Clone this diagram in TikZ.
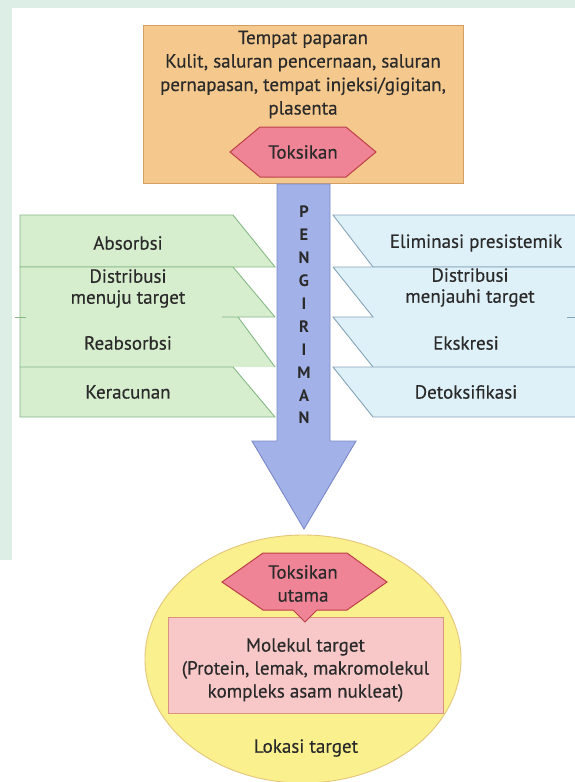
\documentclass[tikz,border=0pt]{standalone}
\usepackage{fontspec}
\setmainfont{PT Sans}[FakeBold=0.4]
\newfontfamily\letterfont{PT Sans Bold}
\usetikzlibrary{shapes.geometric}
\definecolor{bgGreen}{HTML}{DCEEE6}
\definecolor{srcFill}{HTML}{F5C98E}
\definecolor{srcDraw}{HTML}{D4A062}
\definecolor{hexFill}{HTML}{EF8496}
\definecolor{hexDraw}{HTML}{BC3F48}
\definecolor{grFill}{HTML}{D6EECE}
\definecolor{grDraw}{HTML}{86B886}
\definecolor{blFill}{HTML}{DEF0F8}
\definecolor{blDraw}{HTML}{86A6B8}
\definecolor{arFill}{HTML}{A2B2E8}
\definecolor{arDraw}{HTML}{7A88C6}
\definecolor{elFill}{HTML}{FAF08E}
\definecolor{elDraw}{HTML}{E4C67A}
\definecolor{moFill}{HTML}{F8C8C8}
\definecolor{moDraw}{HTML}{D8927E}
\definecolor{txt}{HTML}{2A2A2A}
\begin{document}
\begin{tikzpicture}[x=1pt,y=-1pt,
  every node/.style={text=txt},
  label16/.style={font=\fontsize{19}{21}\selectfont, align=center, inner sep=0pt},
  letterstyle/.style={font=\letterfont\fontsize{16.5}{17}\selectfont, inner sep=0pt},
  grrow/.style={fill=grFill, draw=grDraw, line width=0.9pt},
  blrow/.style={fill=blFill, draw=blDraw, line width=0.9pt},
  hexshape/.style={fill=hexFill, draw=hexDraw, line width=1pt, line join=miter}
]
\useasboundingbox (0,0) rectangle (575,782);
\fill[white] (0,0) rectangle (575,782);
% faint watermark edges
\fill[bgGreen] (0,0) rectangle (575,8);
\fill[bgGreen] (0,0) rectangle (12,560);

% source box
\node[fill=srcFill, draw=srcDraw, line width=0.9pt, minimum width=320pt, minimum height=158pt, inner sep=0pt] (src) at (303,104) {};
\node[label16, font=\fontsize{19}{23.5}\selectfont] (srctxt) at (303,74.5) {Tempat paparan\\Kulit, saluran pencernaan, saluran\\pernapasan, tempat injeksi/gigitan,\\plasenta};
\draw[hexshape] (230,152) -- (260,127) -- (346,127) -- (376,152) -- (346,177) -- (260,177) -- cycle;
\node[label16] (tox) at (303,152) {Toksikan};

% delivery arrow
\draw[fill=arFill, draw=arDraw, line width=0.9pt, line join=miter] (277,184) -- (330,184) -- (330,441) -- (356,441) -- (304,529) -- (252,441) -- (277,441) -- cycle;
\foreach \ch [count=\i from 0] in {P,E,N,G,I,R,I,M,A,N}
  \node[letterstyle] (let\i) at (304,{212+22.9*\i}) {\ch};

% left green rows
\draw[grrow] (20,215) -- (233,215) -- (275,267) -- (20,267) -- cycle;
\fill[grFill] (20,267) -- (233,267) -- (275,317) -- (238,317) -- (275,367) -- (20,367) -- cycle;
\draw[grDraw, line width=0.9pt] (20,267) -- (233,267) -- (275,317) (222,317) -- (275,317) (238,317) -- (275,367) (20,267) -- (20,367);
\draw[grDraw, line width=0.9pt] (15,317) -- (26,317);
\draw[grrow] (20,367) -- (233,367) -- (275,417) -- (20,417) -- cycle;

% right blue rows
\draw[blrow] (333,215) -- (585,215) -- (585,267) -- (373,267) -- cycle;
\fill[blFill] (333,267) -- (585,267) -- (585,367) -- (373,367) -- (333,317) -- (373,317) -- cycle;
\draw[blDraw, line width=0.9pt] (333,267) -- (585,267) (333,267) -- (373,317) -- (333,317) -- (373,367);
\draw[blDraw, line width=0.9pt] (567,317) -- (576,317);
\draw[blrow] (333,367) -- (585,367) -- (585,417) -- (373,417) -- cycle;

% left labels
\node[label16] (abs) at (128,243) {Absorbsi};
\node[label16] (dist1) at (128,288.5) {Distribusi\\menuju target};
\node[label16] (reab) at (128,343) {Reabsorbsi};
\node[label16] (rac) at (128,392) {Keracunan};
% right labels
\node[label16] (elim) at (476,243) {Eliminasi presistemik};
\node[label16] (dist2) at (470,287.5) {Distribusi\\menjauhi target};
\node[label16] (eks) at (466,343) {Ekskresi};
\node[label16] (detox) at (466,392) {Detoksifikasi};

% target location
\node[ellipse, fill=elFill, draw=elDraw, line width=0.9pt, minimum width=316pt, minimum height=248pt, inner sep=0pt] (loc) at (303,659) {};
\node[fill=moFill, draw=moDraw, line width=0.9pt, minimum width=275pt, minimum height=96pt, inner sep=0pt] (mol) at (305.5,665) {};
\node[label16, font=\fontsize{19}{23}\selectfont] (moltxt) at (305.5,670) {Molekul target\\(Protein, lemak, makromolekul\\kompleks asam nukleat)};
\draw[hexshape] (222,582) -- (263,553) -- (347,553) -- (387,582) -- (347,610) -- (317,610) -- (305,622) -- (293,610) -- (263,610) -- cycle;
\node[label16, font=\fontsize{19}{23}\selectfont] (tox2) at (303,583.5) {Toksikan\\utama};
\node[label16] (loctxt) at (306,748) {Lokasi target};
\end{tikzpicture}
\end{document}
